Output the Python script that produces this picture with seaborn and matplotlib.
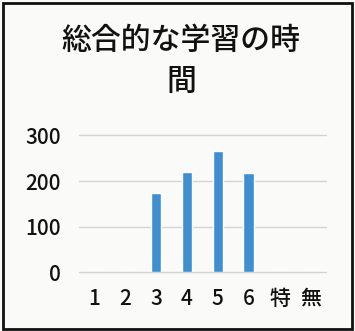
import matplotlib
matplotlib.use("Agg")
import matplotlib.pyplot as plt
import seaborn as sns
import pandas as pd
from matplotlib.patches import Rectangle

# data
categories = ["1", "2", "3", "4", "5", "6", "特", "無"]
counts = [0, 0, 174, 220, 265, 217, 0, 0]
title = "総合的な学習の時\n間"

sns.set_theme(style="white")
plt.rcParams['font.family'] = ['Noto Sans CJK JP', 'DejaVu Sans']

df = pd.DataFrame({"cat": categories, "n": counts})

fig = plt.figure(figsize=(3.55, 3.31), dpi=100)
fig.patch.set_facecolor("#fafaf8")
ax = fig.add_axes([0.2225, 0.177, 0.6955, 0.414])
ax.set_facecolor("#fafaf8")

sns.barplot(data=df, x="cat", y="n", order=categories, color="#3f8fd0",
            saturation=1, width=0.34, ax=ax)

ax.set_ylim(0, 300)
ax.set_yticks([0, 100, 200, 300])
ax.yaxis.grid(True, color="#d4d4d4", linewidth=1)
for gl in ax.get_ygridlines():
    gl.set_clip_on(False)
ax.set_axisbelow(True)
for s in ax.spines.values():
    s.set_visible(False)
ax.set_xlabel("")
ax.set_ylabel("")
ax.tick_params(axis="y", labelsize=15, pad=13, colors="#111111", length=0)
ax.tick_params(axis="x", labelsize=15, pad=11, colors="#111111", length=0)
for lab in ax.get_xticklabels() + ax.get_yticklabels():
    lab.set_fontweight("medium")

fig.text(0.51, 0.815, title, ha="center", va="center", fontsize=21.5,
         color="#111111", linespacing=1.42, fontweight="medium")

fig.patches.append(Rectangle((0.008, 0.006), 0.984, 0.985, transform=fig.transFigure,
                             fill=False, edgecolor="#111111", linewidth=2))

fig.savefig("out.png", dpi=100)
